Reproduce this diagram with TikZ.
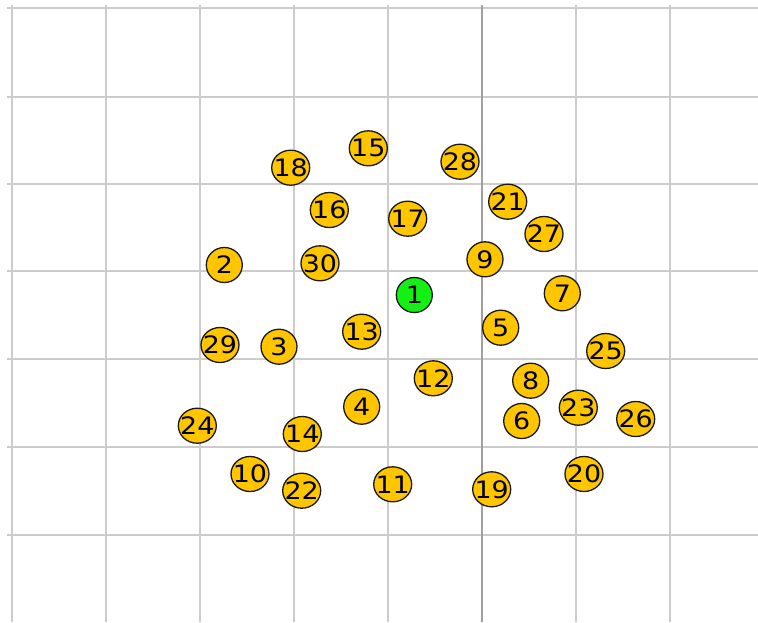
\documentclass[tikz,border=0pt]{standalone}
\usepackage{fontspec}
\newfontfamily\nodefont[FakeStretch=1.12]{DejaVu Sans}
\usetikzlibrary{shapes.geometric}
\definecolor{nodeyellow}{RGB}{255,198,0}
\definecolor{nodegreen}{RGB}{20,240,20}
\definecolor{gridlight}{RGB}{204,204,204}
\definecolor{griddark}{RGB}{160,160,160}
\tikzset{
  gridline/.style={draw=gridlight, line width=1.6pt},
  gridaxis/.style={draw=griddark, line width=1.6pt},
  vtx/.style={ellipse, draw=black!90, line width=1.3pt, fill=nodeyellow,
    minimum width=36pt, minimum height=35pt, inner sep=0pt,
    font=\nodefont\fontsize{24}{24}\selectfont},
  vtxw/.style={vtx, minimum width=38pt},
  root/.style={vtx, fill=nodegreen}
}
\newcommand{\lbl}[1]{\makebox[0pt]{#1}}
\begin{document}
\begin{tikzpicture}[x=1pt,y=-1pt]
\useasboundingbox (0,0) rectangle (758,622);
\fill[white] (0,0) rectangle (758,622);
% grid
\foreach \yy in {8,97,184,271,359,447,535}
  \draw[gridline] (7,\yy) -- (758,\yy);
\foreach \xx in {12,106,200,294,388,576,670}
  \draw[gridline] (\xx,5) -- (\xx,622);
\draw[gridaxis] (482,5) -- (482,622);
% nodes
\node[root] (n1) at (414.3,295) {\lbl{1}};
\node[vtx]  (n2) at (224.3,265) {\lbl{2}};
\node[vtx]  (n3) at (279,346.7) {\lbl{3}};
\node[vtx]  (n4) at (361.7,406.7) {\lbl{4}};
\node[vtx]  (n5) at (500.7,327.7) {\lbl{5}};
\node[vtx]  (n6) at (521.7,421) {\lbl{6}};
\node[vtx]  (n7) at (562.3,293.3) {\lbl{7}};
\node[vtx]  (n8) at (530.7,380.7) {\lbl{8}};
\node[vtx]  (n9) at (485,259.3) {\lbl{9}};
\node[vtxw] (n10) at (250,474) {\lbl{10}};
\node[vtxw] (n11) at (392.7,484.3) {\lbl{11}};
\node[vtxw] (n12) at (433.3,378.3) {\lbl{12}};
\node[vtxw] (n13) at (361.7,331.7) {\lbl{13}};
\node[vtxw] (n14) at (302.3,434) {\lbl{14}};
\node[vtxw] (n15) at (368.3,148.3) {\lbl{15}};
\node[vtxw] (n16) at (329.3,210) {\lbl{16}};
\node[vtxw] (n17) at (407.7,218.7) {\lbl{17}};
\node[vtxw] (n18) at (290.7,167.7) {\lbl{18}};
\node[vtxw] (n19) at (491.7,489.3) {\lbl{19}};
\node[vtxw] (n20) at (584,474) {\lbl{20}};
\node[vtxw] (n21) at (507.7,201.7) {\lbl{21}};
\node[vtxw] (n22) at (301.7,490.7) {\lbl{22}};
\node[vtxw] (n23) at (578.3,407.7) {\lbl{23}};
\node[vtxw] (n24) at (197.3,425.7) {\lbl{24}};
\node[vtxw] (n25) at (605.7,351) {\lbl{25}};
\node[vtxw] (n26) at (635.7,419) {\lbl{26}};
\node[vtxw] (n27) at (544,234) {\lbl{27}};
\node[vtxw] (n28) at (460,161.7) {\lbl{28}};
\node[vtxw] (n29) at (220,345) {\lbl{29}};
\node[vtxw] (n30) at (320,263.3) {\lbl{30}};
\end{tikzpicture}
\end{document}
